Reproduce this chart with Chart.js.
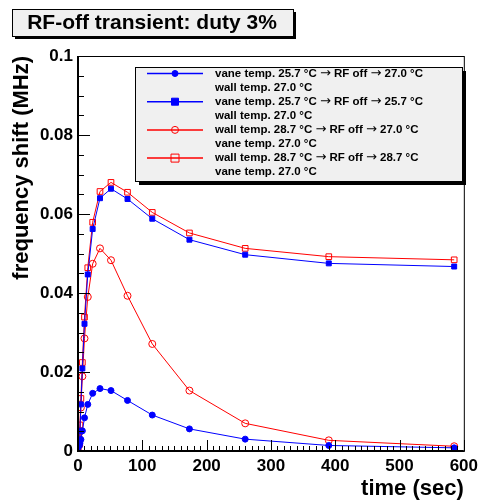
<!DOCTYPE html>
<html>
<head>
<meta charset="utf-8">
<script src="https://cdn.jsdelivr.net/npm/chart.js@4.4.0/dist/chart.umd.min.js"></script>
<style>
  body { margin: 0; background: #fff; }
  #wrap { width: 483px; height: 502px; position: relative; }
</style>
</head>
<body>
<div id="wrap"><canvas id="myChart" width="483" height="502"></canvas></div>
<script>
// time points (sec) shared by all four runs
var times = [0, 2, 3, 4.5, 6.8, 10.1, 15.2, 22.8, 34.2, 51.3, 77, 115.5, 173.3, 260, 390, 585];

// frequency shift (MHz)
var vaneTo27 = [0, 0.0013, 0.0020, 0.0029, 0.0051, 0.0084, 0.0118, 0.0146, 0.0158, 0.0153, 0.0128, 0.0091, 0.0056, 0.0030, 0.0014, 0.0008];
var vaneTo257 = [0, 0.0020, 0.0051, 0.0118, 0.0209, 0.0322, 0.0447, 0.0562, 0.0640, 0.0664, 0.0638, 0.0588, 0.0535, 0.0497, 0.0475, 0.0467];
var wallTo27 = [0, 0.0015, 0.0049, 0.0110, 0.0189, 0.0285, 0.0390, 0.0474, 0.0513, 0.0483, 0.0393, 0.0271, 0.0153, 0.0070, 0.0027, 0.0012];
var wallTo287 = [0.0010, 0.0030, 0.0066, 0.0133, 0.0224, 0.0339, 0.0464, 0.0579, 0.0657, 0.0680, 0.0655, 0.0604, 0.0552, 0.0513, 0.0492, 0.0484];

var xTicks = [0, 100, 200, 300, 400, 500, 600];
var yTicks = [0, 0.02, 0.04, 0.06, 0.08, 0.1];

var legendLines = [
    ['vane temp. 25.7 °C → RF off → 27.0 °C', 'wall temp. 27.0 °C'],
    ['vane temp. 25.7 °C → RF off → 25.7 °C', 'wall temp. 27.0 °C'],
    ['wall temp. 28.7 °C → RF off → 27.0 °C', 'vane temp. 27.0 °C'],
    ['wall temp. 28.7 °C → RF off → 28.7 °C', 'vane temp. 27.0 °C']
];

function pts(ys) {
    return times.map(function(t, i) { return { x: t, y: ys[i] }; });
}

var BLUE = 'rgb(0,0,255)';
var RED = 'rgb(255,0,0)';
var FONT = '"Liberation Sans", Arial, sans-serif';

// little helper for the boxed-with-shadow look
function shadowBox(ctx, x, y, w, h, off) {
    ctx.fillStyle = '#000';
    ctx.fillRect(x + off, y + off, w, h);
    ctx.fillStyle = '#f0f0f0';
    ctx.fillRect(x, y, w, h);
    ctx.strokeStyle = '#000';
    ctx.lineWidth = 1;
    ctx.strokeRect(x + 0.5, y + 0.5, w, h);
}

// legend text: arrows drawn in DejaVu so they come out long like the original
function legendText(ctx, str, x, y) {
    var parts = str.split('→');
    parts.forEach(function(p, k) {
        ctx.font = 'bold 11.5px ' + FONT;
        ctx.fillText(p, x, y);
        x += ctx.measureText(p).width;
        if (k < parts.length - 1) {
            ctx.font = '13px "DejaVu Sans"';
            ctx.fillText('→', x, y);
            x += ctx.measureText('→').width;
        }
    });
}

var rootLook = {
    id: 'rootLook',
    afterDraw: function(chart) {
        var ctx = chart.ctx;
        var a = chart.chartArea;
        var xs = chart.scales.x, ys = chart.scales.y;
        ctx.save();

        // frame
        ctx.strokeStyle = '#000';
        ctx.lineWidth = 1;
        ctx.strokeRect(a.left + 0.5, a.top + 0.5, a.right - a.left, a.bottom - a.top);
        ctx.lineWidth = 2;
        ctx.beginPath();
        ctx.moveTo(a.left, a.top);
        ctx.lineTo(a.left, a.bottom);
        ctx.lineTo(a.right, a.bottom);
        ctx.stroke();

        // inward ticks
        ctx.lineWidth = 1;
        ctx.beginPath();
        for (var v = 0; v <= 0.1001; v += 0.005) {
            var py = Math.round(ys.getPixelForValue(v)) + 0.5;
            var major = Math.abs(v / 0.02 - Math.round(v / 0.02)) < 1e-6;
            ctx.moveTo(a.left, py);
            ctx.lineTo(a.left + (major ? 12 : 6), py);
        }
        for (var t = 0; t <= 600; t += 10) {
            var px = Math.round(xs.getPixelForValue(t)) + 0.5;
            ctx.moveTo(px, a.bottom);
            ctx.lineTo(px, a.bottom - (t % 100 === 0 ? 11 : 5));
        }
        ctx.stroke();

        // title box
        shadowBox(ctx, 12, 9, 281, 27, 3);
        ctx.fillStyle = '#000';
        ctx.font = 'bold 21px ' + FONT;
        ctx.textAlign = 'center';
        ctx.textBaseline = 'middle';
        ctx.fillText('RF-off transient: duty 3%', 152, 23);

        // legend box
        var lx = 135, ly = 67, lw = 327, lh = 114;
        shadowBox(ctx, lx, ly, lw, lh, 4);
        ctx.textAlign = 'left';
        chart.data.datasets.forEach(function(ds, i) {
            var yy = 73.5 + i * 28.2;
            ctx.strokeStyle = ds.borderColor;
            ctx.lineWidth = 1.5;
            ctx.beginPath();
            ctx.moveTo(147, yy);
            ctx.lineTo(203, yy);
            ctx.stroke();
            ctx.lineWidth = 1;
            ctx.fillStyle = ds.pointBackgroundColor;
            ctx.strokeStyle = ds.pointBorderColor;
            var r = ds.pointRadius;
            ctx.beginPath();
            if (ds.pointStyle === 'rect') {
                ctx.rect(175 - r, yy - r, 2 * r, 2 * r);
            } else {
                ctx.arc(175, yy, r, 0, Math.PI * 2);
            }
            ctx.fill();
            ctx.stroke();
            ctx.fillStyle = '#000';
            legendText(ctx, legendLines[i][0], 215, yy);
            legendText(ctx, legendLines[i][1], 215, yy + 14);
        });
        ctx.restore();
    }
};

var config = {
    type: 'scatter',
    data: {
        datasets: [
            { label: legendLines[0].join(' '), data: pts(vaneTo27), showLine: true,
              borderColor: BLUE, borderWidth: 1, pointStyle: 'circle', pointRadius: 3,
              pointBackgroundColor: BLUE, pointBorderColor: BLUE },
            { label: legendLines[1].join(' '), data: pts(vaneTo257), showLine: true,
              borderColor: BLUE, borderWidth: 1, pointStyle: 'rect', pointRadius: 3.5,
              pointBackgroundColor: BLUE, pointBorderColor: BLUE },
            { label: legendLines[2].join(' '), data: pts(wallTo27), showLine: true,
              borderColor: RED, borderWidth: 1, pointStyle: 'circle', pointRadius: 3.5,
              pointBackgroundColor: 'rgba(255,255,255,0)', pointBorderColor: RED },
            { label: legendLines[3].join(' '), data: pts(wallTo287), showLine: true,
              borderColor: RED, borderWidth: 1, pointStyle: 'rect', pointRadius: 4,
              pointBackgroundColor: 'rgba(255,255,255,0)', pointBorderColor: RED }
        ]
    },
    options: {
        responsive: false,
        animation: false,
        layout: { padding: { left: 0, right: 15, top: 56, bottom: 0 } },
        plugins: { legend: { display: false }, tooltip: { enabled: false } },
        scales: {
            x: {
                type: 'linear', min: 0, max: 600,
                afterFit: function(s) { s.height = 51; },
                afterBuildTicks: function(s) { s.ticks = xTicks.map(function(v) { return { value: v }; }); },
                grid: { display: false, drawTicks: false },
                border: { display: false },
                ticks: {
                    color: '#000', padding: 5, maxRotation: 0,
                    font: { family: FONT, weight: 'bold', size: 17 },
                    callback: function(v) { return String(v); }
                },
                title: {
                    display: true, text: 'time (sec)', align: 'end', color: '#000',
                    font: { family: FONT, weight: 'bold', size: 22 },
                    padding: { top: 0, bottom: 0 }
                }
            },
            y: {
                type: 'linear', min: 0, max: 0.1,
                afterFit: function(s) { s.width = 78; },
                afterBuildTicks: function(s) { s.ticks = yTicks.map(function(v) { return { value: v }; }); },
                grid: { display: false, drawTicks: false },
                border: { display: false },
                ticks: {
                    color: '#000', padding: 5,
                    font: { family: FONT, weight: 'bold', size: 17 },
                    callback: function(v) { return v === 0 ? '0' : String(Math.round(v * 100) / 100); }
                },
                title: {
                    display: true, text: 'frequency shift (MHz)', align: 'end', color: '#000',
                    font: { family: FONT, weight: 'bold', size: 22 },
                    padding: { top: 9, bottom: 0 }
                }
            }
        }
    },
    plugins: [rootLook]
};

var myChart = new Chart(document.getElementById('myChart'), config);
</script>
</body>
</html>
